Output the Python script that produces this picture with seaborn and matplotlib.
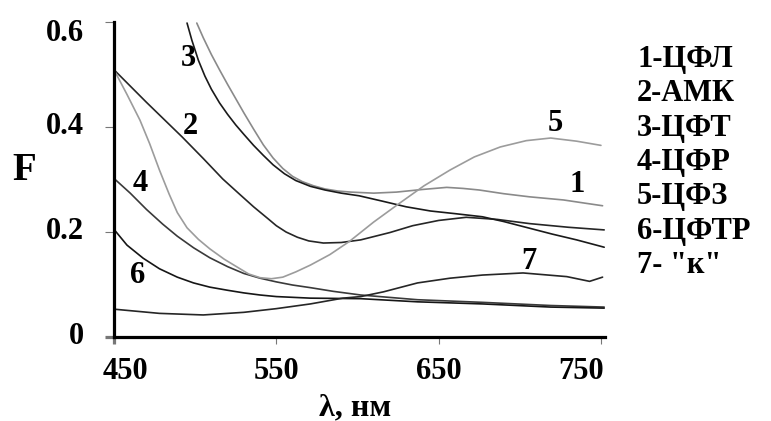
import numpy as np
import pandas as pd
import matplotlib
matplotlib.use('Agg')
import matplotlib.pyplot as plt
import matplotlib.transforms as mtransforms
import seaborn as sns

# curves (wavelength, nm -> F)
x1 = [501, 505, 510, 515, 520, 525, 530, 536, 542, 548, 554, 560, 566, 573, 580, 588, 596,
      610, 624, 640, 655, 665, 675, 690, 706, 727, 740, 751]
y1 = [0.598, 0.570, 0.538, 0.509, 0.481, 0.454, 0.427, 0.396, 0.366, 0.341, 0.321, 0.306,
      0.296, 0.288, 0.282, 0.278, 0.276, 0.274, 0.276, 0.281, 0.285, 0.283, 0.280, 0.273,
      0.267, 0.261, 0.255, 0.250]

x2 = [450, 460, 470, 481, 492, 505, 517, 527, 536, 545, 550, 556, 563, 570, 579, 590, 602,
      620, 634, 650, 667, 686, 706, 730, 752]
y2 = [0.509, 0.478, 0.447, 0.414, 0.381, 0.340, 0.301, 0.273, 0.248, 0.225, 0.212, 0.200,
      0.190, 0.183, 0.179, 0.180, 0.185, 0.199, 0.212, 0.222, 0.228, 0.224, 0.216, 0.209, 0.204]

x3 = [495, 498, 502, 506, 510, 515, 520, 525, 530, 536, 542, 548, 555, 562, 571, 580, 590,
      601, 615, 630, 645, 660, 677, 690, 705, 720, 735, 752]
y3 = [0.598, 0.565, 0.527, 0.497, 0.472, 0.446, 0.424, 0.404, 0.386, 0.365, 0.346, 0.328,
      0.311, 0.298, 0.287, 0.280, 0.274, 0.269, 0.259, 0.248, 0.240, 0.235, 0.229, 0.220,
      0.208, 0.196, 0.185, 0.171]

x4 = [450, 460, 470, 480, 489, 499, 509, 520, 530, 540, 550, 560, 571, 585, 602, 637, 677, 719, 752]
y4 = [0.302, 0.274, 0.243, 0.215, 0.192, 0.170, 0.151, 0.134, 0.121, 0.112, 0.105, 0.099,
      0.094, 0.087, 0.080, 0.071, 0.066, 0.060, 0.057]

x5 = [450, 458, 466, 472, 478, 484, 489, 495, 502, 509, 518, 526, 533, 540, 547, 554, 562,
      571, 583, 595, 610, 626, 641, 657, 672, 688, 704, 719, 735, 750]
y5 = [0.509, 0.462, 0.413, 0.368, 0.318, 0.272, 0.237, 0.208, 0.186, 0.168, 0.148, 0.133,
      0.120, 0.113, 0.111, 0.114, 0.124, 0.137, 0.157, 0.182, 0.219, 0.255, 0.288, 0.318,
      0.343, 0.362, 0.374, 0.379, 0.373, 0.365]

x6 = [450, 458, 468, 478, 489, 499, 509, 520, 530, 540, 550, 571, 602, 637, 677, 719, 752]
y6 = [0.205, 0.175, 0.150, 0.130, 0.114, 0.103, 0.095, 0.089, 0.084, 0.080, 0.077, 0.074,
      0.073, 0.067, 0.063, 0.057, 0.055]

x7 = [450, 478, 505, 530, 550, 571, 591, 602, 616, 637, 657, 677, 702, 729, 743, 751]
y7 = [0.053, 0.045, 0.042, 0.047, 0.054, 0.063, 0.074, 0.077, 0.086, 0.103, 0.112, 0.118,
      0.122, 0.115, 0.106, 0.114]

curve_ids = ['1', '2', '3', '4', '5', '6', '7']
legend_lines = ['1-ЦФЛ', '2-АМК', '3-ЦФТ', '4-ЦФР', '5-ЦФЗ', '6-ЦФТР', '7- "к"']
label_x = [735.6, 497, 495.6, 466, 722, 464.5, 705.7]
label_y = [0.291, 0.400, 0.531, 0.293, 0.406, 0.118, 0.143]

xs = [x1, x2, x3, x4, x5, x6, x7]
ys = [y1, y2, y3, y4, y5, y6, y7]
df = pd.concat([pd.DataFrame({'nm': x, 'F': y, 'curve': c})
                for x, y, c in zip(xs, ys, curve_ids)], ignore_index=True)

colors = {'1': '#8a8a8a', '2': '#262626', '3': '#1a1a1a', '4': '#3a3a3a',
          '5': '#9c9c9c', '6': '#161616', '7': '#262626'}

sns.set_theme(style='white')
plt.rcParams['font.family'] = ['Liberation Serif', 'DejaVu Serif']
plt.rcParams['font.weight'] = 'bold'
plt.rcParams['text.color'] = 'black'

fig = plt.figure(figsize=(7.71, 4.21), dpi=100)
ax = fig.add_axes([114 / 771, 1 - 337 / 421, (605 - 114) / 771, (337 - 22) / 421])

sns.lineplot(data=df, x='nm', y='F', hue='curve', palette=colors, estimator=None,
             sort=False, legend=False, linewidth=1.2, ax=ax)

for c, lx, ly in zip(curve_ids, label_x, label_y):
    ax.text(lx, ly, c, fontsize=22, fontweight='bold', ha='center', va='center', color='black')

ax.set_xlim(450, 752.5)
ax.set_ylim(0, 0.6)
ax.set_xticks([450, 550, 650, 750])
ax.set_yticks([0, 0.2, 0.4, 0.6])
ax.set_yticklabels(['0', '0.2', '0.4', '0.6'])
ax.set_xlabel('')
ax.set_ylabel('')

for side in ['top', 'right']:
    ax.spines[side].set_visible(False)
for side in ['left', 'bottom']:
    ax.spines[side].set_color('black')
    ax.spines[side].set_linewidth(2.3)

ax.tick_params(axis='y', direction='out', length=6.5, width=0.8, color='#777777',
               pad=15, labelsize=22, labelcolor='black', left=True)
ax.tick_params(axis='x', direction='out', length=5, width=0.8, color='#777777',
               pad=9.5, labelsize=22, labelcolor='black', bottom=True)
for lab in ax.get_xticklabels() + ax.get_yticklabels():
    lab.set_fontweight('bold')

# the ticks at the corner sit on the spines and look as thick as them
ax.xaxis.get_major_ticks()[0].tick1line.set_markeredgewidth(2.3)
ax.xaxis.get_major_ticks()[0].tick1line.set_color('black')
ax.yaxis.get_major_ticks()[0].tick1line.set_markeredgewidth(2.3)
ax.yaxis.get_major_ticks()[0].tick1line.set_color('black')

# small shifts of the tick labels, as in the reference
def shift(lab, dx_px, dy_px):
    off = mtransforms.ScaledTranslation(dx_px / 100, dy_px / 100, fig.dpi_scale_trans)
    lab.set_transform(lab.get_transform() + off)

xl = ax.get_xticklabels()
shift(xl[0], 11, 0)
shift(xl[3], -20, 0)
yl = ax.get_yticklabels()
for lab in yl[:3]:
    shift(lab, 0, 4)
shift(yl[3], 0, -8)

fig.text(24 / 771, 1 - 170 / 421, 'F', fontsize=28, fontweight='bold', ha='center', va='center')
fig.text(355 / 771, 1 - 408 / 421, 'λ, нм', fontsize=23, fontweight='bold', ha='center', va='center')

for i, t in enumerate(legend_lines):
    fig.text(637 / 771, 1 - (67 + 34.3 * i) / 421, t, fontsize=22, fontweight='bold',
             ha='left', va='baseline')

fig.savefig('out.png', dpi=100)
